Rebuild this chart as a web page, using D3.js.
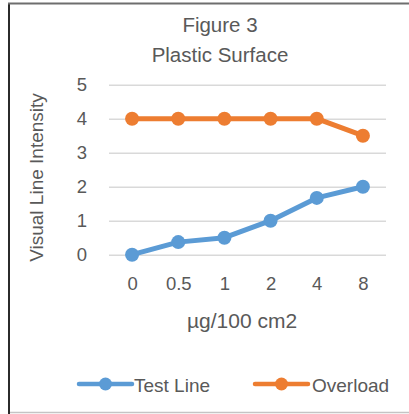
<!DOCTYPE html>
<html>
<head>
<meta charset="utf-8">
<script src="https://cdn.jsdelivr.net/npm/d3@7"></script>
<style>
  html, body { margin: 0; padding: 0; background: #fff; }
  svg text { font-family: "Liberation Sans", Arial, sans-serif; fill: #595959; }
</style>
</head>
<body>
<div id="chart"></div>
<script>
// chart values
var categories = ["0", "0.5", "1", "2", "4", "8"];
var testLine = [0, 0.37, 0.5, 1, 1.67, 2];
var overload = [4, 4, 4, 4, 4, 3.5];
var yTicks = [0, 1, 2, 3, 4, 5];
var seriesNames = ["Test Line", "Overload"];

var width = 409, height = 414;
var color = d3.scaleOrdinal().domain(seriesNames).range(["#5B9BD5", "#ED7D31"]);

var svg = d3.select("#chart").append("svg")
    .attr("width", width)
    .attr("height", height);

// frame
svg.append("line").attr("x1", 9).attr("x2", 9).attr("y1", 3).attr("y2", 414)
    .attr("stroke", "#2b2b2b").attr("stroke-width", 2);
svg.append("line").attr("x1", 8).attr("x2", 409).attr("y1", 3.5).attr("y2", 3.5)
    .attr("stroke", "#6e6e6e").attr("stroke-width", 2);
svg.append("line").attr("x1", 10).attr("x2", 409).attr("y1", 412.5).attr("y2", 412.5)
    .attr("stroke", "#c4c4c4").attr("stroke-width", 1.5);

var x = d3.scalePoint().domain(categories).range([109, 386]).padding(0.5);
var y = d3.scaleLinear().domain([0, 5]).range([254.7, 84.7]);

// gridlines + y tick labels
var yAxis = svg.append("g")
    .attr("transform", "translate(109,0)")
    .call(d3.axisLeft(y).tickValues(yTicks).tickSize(-277).tickPadding(22).tickFormat(d3.format("d")));
yAxis.select(".domain").remove();
yAxis.selectAll("line").attr("stroke", "#d9d9d9").attr("stroke-width", 1.5);
yAxis.selectAll("text").attr("font-size", "18.5px").attr("fill", "#595959")
    .style("font-family", "'Liberation Sans', Arial, sans-serif");

// x tick labels
var xAxis = svg.append("g")
    .attr("transform", "translate(0,254.7)")
    .call(d3.axisBottom(x).tickSize(0).tickPadding(22.3));
xAxis.select(".domain").remove();
xAxis.selectAll("text").attr("font-size", "18.5px").attr("fill", "#595959")
    .style("font-family", "'Liberation Sans', Arial, sans-serif");

// titles
svg.append("text").attr("x", 220).attr("y", 32).attr("text-anchor", "middle")
    .attr("font-size", "20.5px").text("Figure 3");
svg.append("text").attr("x", 220).attr("y", 61.5).attr("text-anchor", "middle")
    .attr("font-size", "20.5px").text("Plastic Surface");
svg.append("text").attr("x", 242).attr("y", 328).attr("text-anchor", "middle")
    .attr("font-size", "21px").text("µg/100 cm2");
svg.append("text")
    .attr("transform", "translate(43,177.5) rotate(-90)")
    .attr("text-anchor", "middle")
    .attr("font-size", "19px").text("Visual Line Intensity");

// lines
var line = d3.line()
    .x(function (d, i) { return x(categories[i]); })
    .y(function (d) { return y(d); });

var series = [
    { name: "Test Line", values: testLine },
    { name: "Overload", values: overload }
];

series.forEach(function (s) {
    svg.append("path")
        .datum(s.values)
        .attr("d", line)
        .attr("fill", "none")
        .attr("stroke", color(s.name))
        .attr("stroke-width", 5)
        .attr("stroke-linejoin", "round");
    svg.selectAll(".pt-" + s.name.replace(" ", ""))
        .data(s.values)
        .enter()
        .append("circle")
        .attr("cx", function (d, i) { return x(categories[i]); })
        .attr("cy", function (d) { return y(d); })
        .attr("r", 7)
        .attr("fill", color(s.name));
});

// legend
var legendX = [79, 255];
var legend = svg.selectAll(".legend")
    .data(seriesNames)
    .enter()
    .append("g")
    .attr("class", "legend")
    .attr("transform", function (d, i) { return "translate(" + legendX[i] + ",384)"; });
legend.append("line")
    .attr("x1", 0).attr("x2", 53).attr("y1", 0).attr("y2", 0)
    .attr("stroke", color).attr("stroke-width", 4.5).attr("stroke-linecap", "round");
legend.append("circle")
    .attr("cx", 26.5).attr("cy", 0).attr("r", 6.5)
    .attr("fill", color);
legend.append("text")
    .attr("x", function (d, i) { return i === 0 ? 55 : 57; })
    .attr("y", 7.5)
    .attr("font-size", "19px")
    .text(function (d) { return d; });
</script>
</body>
</html>
